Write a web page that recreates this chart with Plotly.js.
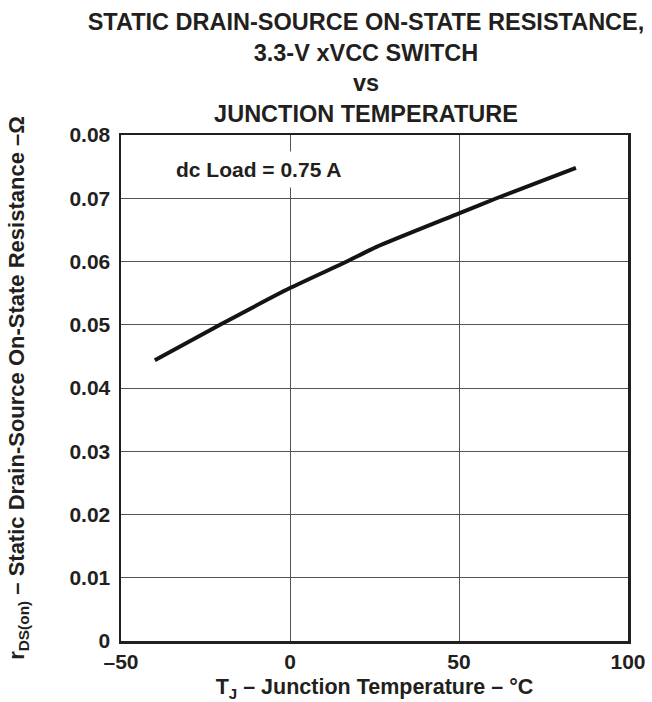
<!DOCTYPE html>
<html>
<head>
<meta charset="utf-8">
<script src="https://cdn.plot.ly/plotly-3.0.1.min.js"></script>
<style>html,body{margin:0;padding:0;background:#fff;}#chart{width:652px;height:702px;}</style>
</head>
<body>
<div id="chart"></div>
<script>
// Junction temperature (°C) and on-state resistance (Ω)
const tempC = [-40, -20.7, 0, 16.8, 25.6, 50, 61.1, 84.6];
const rdsOn = [0.0444, 0.0500, 0.0558, 0.0600, 0.0623, 0.0676, 0.0700, 0.0748];

const xTickVals = [-50, 0, 50, 100];
const xTickText = ['\u201350', '0', '50', '100'];
const yTickVals = [0, 0.01, 0.02, 0.03, 0.04, 0.05, 0.06, 0.07, 0.08];
const yTickText = ['0', '0.01', '0.02', '0.03', '0.04', '0.05', '0.06', '0.07', '0.08'];

const FONT = '"Liberation Sans", Arial, Helvetica, sans-serif';
const INK = '#231f20';

const trace = {
  x: tempC, y: rdsOn, type: 'scatter', mode: 'lines',
  line: {color: '#141414', width: 4, shape: 'spline', smoothing: 0.6},
  hoverinfo: 'skip', showlegend: false
};

const axisCommon = {
  showline: true, mirror: true, linecolor: INK, linewidth: 2.5,
  showgrid: true, gridcolor: '#555555', gridwidth: 1,
  zeroline: false, ticks: '', tickmode: 'array',
  tickfont: {family: FONT, size: 21, color: INK, weight: 700},
  fixedrange: true
};

const layout = {
  width: 652, height: 702,
  margin: {l: 121, r: 24, t: 135, b: 61, pad: 0},
  paper_bgcolor: '#fff', plot_bgcolor: '#fff',
  font: {family: FONT, color: INK},
  title: {
    text: 'STATIC DRAIN-SOURCE ON-STATE RESISTANCE,<br>3.3-V xVCC SWITCH<br>vs<br>JUNCTION TEMPERATURE',
    font: {family: FONT, size: 23.5, color: INK, weight: 700},
    x: 366/652, xanchor: 'center', xref: 'container',
    y: 1 - 30/702, yanchor: 'top', yref: 'container'
  },
  xaxis: Object.assign({}, axisCommon, {
    range: [-50, 100], tickvals: xTickVals, ticktext: xTickText,
    ticklabelstandoff: 0,
    title: {text: 'T<sub>J</sub> \u2013 Junction Temperature \u2013 \u00B0C',
            font: {family: FONT, size: 21.5, color: INK, weight: 700}, standoff: 11}
  }),
  yaxis: Object.assign({}, axisCommon, {
    range: [0, 0.08], tickvals: yTickVals, ticktext: yTickText,
    ticklabelstandoff: 4,
    title: {text: 'r<sub>DS(on)</sub> \u2013 Static Drain-Source On-State Resistance \u2013\u03A9',
            font: {family: FONT, size: 22, color: INK, weight: 700}, standoff: 39}
  }),
  annotations: [{
    text: 'dc Load = 0.75 A', xref: 'paper', yref: 'paper',
    x: 0.272, y: 0.932, xanchor: 'center', yanchor: 'middle', showarrow: false,
    font: {family: FONT, size: 21, color: INK, weight: 700},
    bgcolor: '#ffffff', borderpad: 6
  }]
};

Plotly.newPlot('chart', [trace], layout, {staticPlot: true, displayModeBar: false});
</script>
</body>
</html>
